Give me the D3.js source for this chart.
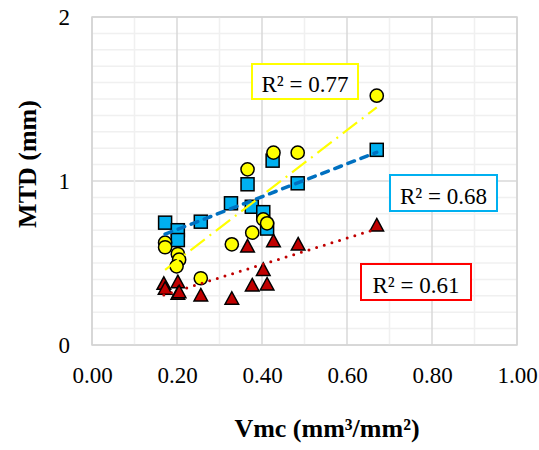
<!DOCTYPE html>
<html>
<head>
<meta charset="utf-8">
<script src="https://cdn.jsdelivr.net/npm/d3@7/dist/d3.min.js"></script>
<style>
  html, body { margin: 0; padding: 0; background: #fff; }
  svg { display: block; font-family: "Liberation Serif", "Times New Roman", serif; }
</style>
</head>
<body>
<svg id="chart" width="539" height="450"></svg>
<script>
// Vmc (mm³/mm²) vs MTD (mm) for three surface groups
const squareVmc = [0.172, 0.202, 0.202, 0.256, 0.327, 0.366, 0.376, 0.403, 0.412, 0.425, 0.484, 0.670];
const squareMtd = [0.746, 0.700, 0.640, 0.752, 0.864, 0.980, 0.843, 0.810, 0.710, 1.124, 0.986, 1.190];

const circleVmc = [0.172, 0.172, 0.202, 0.205, 0.199, 0.256, 0.329, 0.377, 0.366, 0.403, 0.412, 0.427, 0.484, 0.670];
const circleMtd = [0.624, 0.596, 0.555, 0.520, 0.480, 0.407, 0.614, 0.685, 1.071, 0.766, 0.742, 1.173, 1.173, 1.520];

const triangleVmc = [0.169, 0.172, 0.202, 0.202, 0.205, 0.256, 0.329, 0.366, 0.377, 0.403, 0.412, 0.427, 0.485, 0.670];
const triangleMtd = [0.376, 0.346, 0.386, 0.315, 0.325, 0.305, 0.285, 0.604, 0.366, 0.461, 0.372, 0.636, 0.616, 0.732];

const xTicks = [0, 0.2, 0.4, 0.6, 0.8, 1.0];
const yTicks = [0, 1, 2];
const r2Labels = ["R² = 0.77", "R² = 0.68", "R² = 0.61"];

const svg = d3.select("#chart");
const plotL = 92, plotR = 517, plotT = 17, plotB = 345;

const x = d3.scaleLinear().domain([0, 1]).range([plotL, plotR]);
const y = d3.scaleLinear().domain([0, 2]).range([plotB, plotT]);

// gridlines: minor every 0.1, major at labelled ticks
const grid = svg.append("g");
d3.range(0, 2.0001, 0.1).forEach(v => {
  const major = Math.abs(v - Math.round(v)) < 1e-6;
  grid.append("line")
    .attr("x1", plotL).attr("x2", plotR)
    .attr("y1", y(v)).attr("y2", y(v))
    .attr("stroke", major ? "#d9d9d9" : "#f0f0f0")
    .attr("stroke-width", 1.5);
});
d3.range(0, 1.0001, 0.1).forEach(v => {
  const major = Math.abs(v * 5 - Math.round(v * 5)) < 1e-6;
  grid.append("line")
    .attr("y1", plotT).attr("y2", plotB)
    .attr("x1", x(v)).attr("x2", x(v))
    .attr("stroke", major ? "#d9d9d9" : "#f0f0f0")
    .attr("stroke-width", 1.5);
});
grid.append("rect")
  .attr("x", plotL).attr("y", plotT)
  .attr("width", plotR - plotL).attr("height", plotB - plotT)
  .attr("fill", "none").attr("stroke", "#d4d4d4").attr("stroke-width", 1.5);

// axes (labels only; lines come from the grid frame)
const xAxis = svg.append("g")
  .attr("transform", `translate(0,${plotB})`)
  .call(d3.axisBottom(x).tickValues(xTicks).tickFormat(d3.format(".2f")).tickSize(0).tickPadding(22));
const yAxis = svg.append("g")
  .attr("transform", `translate(${plotL},0)`)
  .call(d3.axisLeft(y).tickValues(yTicks).tickFormat(d3.format("d")).tickSize(0).tickPadding(22));
[xAxis, yAxis].forEach(a => {
  a.select(".domain").remove();
  a.selectAll("text")
    .attr("font-family", "Liberation Serif, Times New Roman, serif")
    .attr("font-size", 23).attr("fill", "#000");
});

// markers
const pts = (vx, vy) => vx.map((v, i) => [v, vy[i]]);
const squares = pts(squareVmc, squareMtd);
const circles = pts(circleVmc, circleMtd);
const triangles = pts(triangleVmc, triangleMtd);

svg.append("g").selectAll("rect").data(squares).join("rect")
  .attr("x", d => x(d[0]) - 6.5).attr("y", d => y(d[1]) - 6.5)
  .attr("width", 13).attr("height", 13)
  .attr("fill", "#00b0f0").attr("stroke", "#000").attr("stroke-width", 1.5);

svg.append("g").selectAll("path").data(triangles).join("path")
  .attr("d", d => {
    const cx = x(d[0]), cy = y(d[1]);
    return `M${cx},${cy - 6.5}L${cx + 6.8},${cy + 6}L${cx - 6.8},${cy + 6}Z`;
  })
  .attr("fill", "#c00000").attr("stroke", "#000").attr("stroke-width", 1.5)
  .attr("stroke-linejoin", "miter");

svg.append("g").selectAll("circle").data(circles).join("circle")
  .attr("cx", d => x(d[0])).attr("cy", d => y(d[1])).attr("r", 6.6)
  .attr("fill", "#ffff00").attr("stroke", "#000").attr("stroke-width", 1.5);

// least-squares trendlines spanning each series' Vmc range
function fit(data) {
  const mx = d3.mean(data, d => d[0]), my = d3.mean(data, d => d[1]);
  const sxy = d3.sum(data, d => (d[0] - mx) * (d[1] - my));
  const sxx = d3.sum(data, d => (d[0] - mx) ** 2);
  const b = sxy / sxx, a = my - b * mx;
  const [x0, x1] = d3.extent(data, d => d[0]);
  return [[x0, a + b * x0], [x1, a + b * x1]];
}
const line = d3.line().x(d => x(d[0])).y(d => y(d[1]));

svg.append("path").attr("d", line(fit(circles)))
  .attr("stroke", "#ffff00").attr("stroke-width", 2.2).attr("fill", "none")
  .attr("stroke-dasharray", "18,6,2,6");
svg.append("path").attr("d", line(fit(squares)))
  .attr("stroke", "#0070c0").attr("stroke-width", 3.5).attr("fill", "none")
  .attr("stroke-linecap", "round").attr("stroke-dasharray", "7,7");
svg.append("path").attr("d", line(fit(triangles)))
  .attr("stroke", "#c00000").attr("stroke-width", 3).attr("fill", "none")
  .attr("stroke-linecap", "round").attr("stroke-dasharray", "0,8");

// R² boxes
const boxes = [
  { x: 252, y: 64, w: 106, h: 35, color: "#ffff00", text: r2Labels[0] },
  { x: 390, y: 175, w: 107, h: 36, color: "#00b0f0", text: r2Labels[1] },
  { x: 361, y: 264, w: 110, h: 36, color: "#ff0000", text: r2Labels[2] }
];
boxes.forEach(b => {
  svg.append("rect").attr("x", b.x).attr("y", b.y).attr("width", b.w).attr("height", b.h)
    .attr("fill", "#fff").attr("stroke", b.color).attr("stroke-width", 2);
  svg.append("text").attr("x", b.x + b.w / 2).attr("y", b.y + b.h - 7.5)
    .attr("text-anchor", "middle").attr("font-size", 23).attr("fill", "#000")
    .text(b.text);
});

// axis titles
svg.append("text").attr("x", 327).attr("y", 437)
  .attr("text-anchor", "middle").attr("font-size", 26).attr("font-weight", "bold")
  .text("Vmc (mm³/mm²)");
svg.append("text")
  .attr("transform", "translate(36,164) rotate(-90)")
  .attr("text-anchor", "middle").attr("font-size", 26).attr("font-weight", "bold")
  .text("MTD (mm)");
</script>
</body>
</html>
